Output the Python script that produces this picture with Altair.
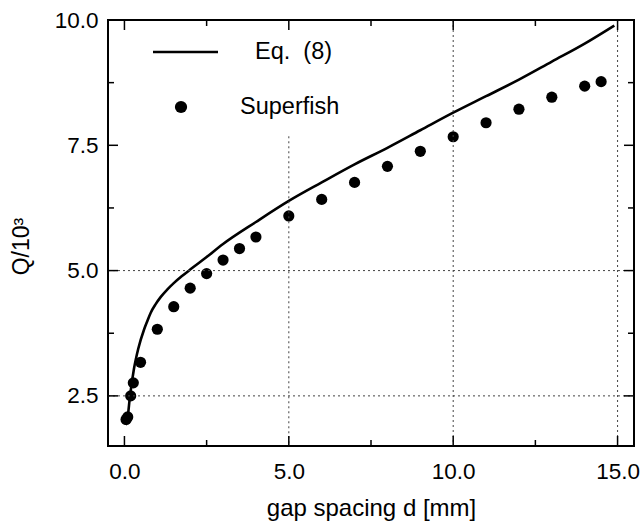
import altair as alt
import pandas as pd

# Eq. (8): quality factor vs. gap spacing
eq_d = [0.04, 0.09, 0.17, 0.29, 0.42, 0.6, 0.7, 0.8, 0.95, 1.1, 1.3, 1.5, 1.75, 2.0,
        2.5, 3.0, 4.0, 5.0, 6.0, 7.0, 8.0, 9.0, 10.0, 11.0, 12.0, 13.0, 14.0, 14.9]
eq_q = [1.92, 2.04, 2.5, 3.04, 3.44, 3.83, 4.0, 4.16, 4.33, 4.47, 4.62, 4.75, 4.89, 5.02,
        5.27, 5.53, 5.97, 6.39, 6.76, 7.12, 7.45, 7.8, 8.15, 8.48, 8.81, 9.17, 9.53, 9.89]

# Superfish simulation results
sf_d = [0.05, 0.1, 0.19, 0.27, 0.49, 1.0, 1.5, 2.0, 2.5, 3.0, 3.5, 4.0,
        5.0, 6.0, 7.0, 8.0, 9.0, 10.0, 11.0, 12.0, 13.0, 14.0, 14.5]
sf_q = [2.03, 2.08, 2.5, 2.76, 3.17, 3.83, 4.28, 4.65, 4.94, 5.21, 5.44, 5.67,
        6.09, 6.42, 6.76, 7.08, 7.38, 7.67, 7.95, 8.22, 8.46, 8.68, 8.77]

# Axis ticks and grid
x_major = [0.0, 5.0, 10.0, 15.0]
x_minor = [2.5, 7.5, 12.5]
y_major = [2.5, 5.0, 7.5, 10.0]
y_minor = [3.75, 6.25, 8.75]
grid_x = [5.0, 10.0, 15.0]
grid_x_top = [7.68, 10.0, 10.0]
grid_y = [2.5, 5.0]

X_DOMAIN = [-0.5, 15.5]
Y_DOMAIN = [1.5, 10.0]
W, H = 526, 426
FONT = "Liberation Sans"

eq_df = pd.DataFrame({"d": eq_d, "Q": eq_q})
sf_df = pd.DataFrame({"d": sf_d, "Q": sf_q})

xs = alt.Scale(domain=X_DOMAIN, nice=False, zero=False)
ys = alt.Scale(domain=Y_DOMAIN, nice=False, zero=False)

x_axis = alt.Axis(values=x_major, format=".1f", title="gap spacing d [mm]",
                  grid=False, ticks=False, domain=False, labelFlush=False,
                  labelFontSize=22.5, labelPadding=14, labelColor="black",
                  titleFontSize=24, titlePadding=14, titleColor="black",
                  titleFontWeight="normal", labelFont=FONT, titleFont=FONT)
y_axis = alt.Axis(values=y_major, format=".1f", title="Q/10³",
                  grid=False, ticks=False, domain=False, labelFlush=False,
                  labelFontSize=22.5, labelPadding=10, labelColor="black",
                  titleFontSize=23, titleColor="black", titleFontWeight="normal",
                  titlePadding=21, titleY=226, labelFont=FONT, titleFont=FONT)


def X(field):
    return alt.X(field, scale=xs, axis=x_axis)


def Y(field):
    return alt.Y(field, scale=ys, axis=y_axis)


line = alt.Chart(eq_df).mark_line(color="black", strokeWidth=2.6,
                                  interpolate="monotone").encode(
    x=X("d:Q"), y=Y("Q:Q"))

dots = alt.Chart(sf_df).mark_circle(color="black", opacity=1, size=125).encode(
    x=X("d:Q"), y=Y("Q:Q"))

# dotted grid lines
vgrid = alt.Chart(pd.DataFrame({"d": grid_x, "Q": grid_x_top})).mark_rule(
    color="#444", strokeWidth=1, strokeDash=[2, 3]).encode(
    x=X("d:Q"), y=Y("Q:Q"), y2=alt.value(H))
hgrid = alt.Chart(pd.DataFrame({"Q": grid_y})).mark_rule(
    color="#444", strokeWidth=1, strokeDash=[2, 3]).encode(
    y=Y("Q:Q"), x=alt.value(0), x2=alt.value(W))


# inward ticks on all four sides
def xticks(vals, length):
    df = pd.DataFrame({"d": vals})
    bottom = alt.Chart(df).mark_rule(color="black", strokeWidth=1.5).encode(
        x=X("d:Q"), y=alt.value(H), y2=alt.value(H - length))
    top = alt.Chart(df).mark_rule(color="black", strokeWidth=1.5).encode(
        x=X("d:Q"), y=alt.value(0), y2=alt.value(length))
    return [bottom, top]


def yticks(vals, length):
    df = pd.DataFrame({"Q": vals})
    left = alt.Chart(df).mark_rule(color="black", strokeWidth=1.5).encode(
        y=Y("Q:Q"), x=alt.value(0), x2=alt.value(length))
    right = alt.Chart(df).mark_rule(color="black", strokeWidth=1.5).encode(
        y=Y("Q:Q"), x=alt.value(W), x2=alt.value(W - length))
    return [left, right]


tick_layers = xticks(x_major, 10) + xticks(x_minor, 6) + yticks(y_major, 10) + yticks(y_minor, 6)

# legend
legend_line = alt.Chart(pd.DataFrame({"k": [0]})).mark_rule(
    color="black", strokeWidth=2.6).encode(
    x=alt.value(45), x2=alt.value(110), y=alt.value(32))
legend_dot = alt.Chart(pd.DataFrame({"k": [0]})).mark_circle(
    color="black", opacity=1, size=150).encode(x=alt.value(73), y=alt.value(87))
legend_eq = alt.Chart(pd.DataFrame({"label": ["Eq.\u00a0 (8)"]})).mark_text(
    align="left", baseline="middle", fontSize=23.5, font=FONT, color="black").encode(
    x=alt.value(147), y=alt.value(32), text="label:N")
legend_sf = alt.Chart(pd.DataFrame({"label": ["Superfish"]})).mark_text(
    align="left", baseline="middle", fontSize=23.5, font=FONT, color="black").encode(
    x=alt.value(132), y=alt.value(87), text="label:N")

chart = alt.layer(
    line, dots, vgrid, hgrid, *tick_layers,
    legend_line, legend_dot, legend_eq, legend_sf,
).properties(
    width=W, height=H,
    autosize=alt.AutoSizeParams(type="none"),
    padding={"left": 108, "top": 20, "right": 8, "bottom": 76},
    background="white",
).configure_view(stroke="black", strokeWidth=2)

chart.save("out.html", embed_options={"renderer": "svg", "actions": False})
